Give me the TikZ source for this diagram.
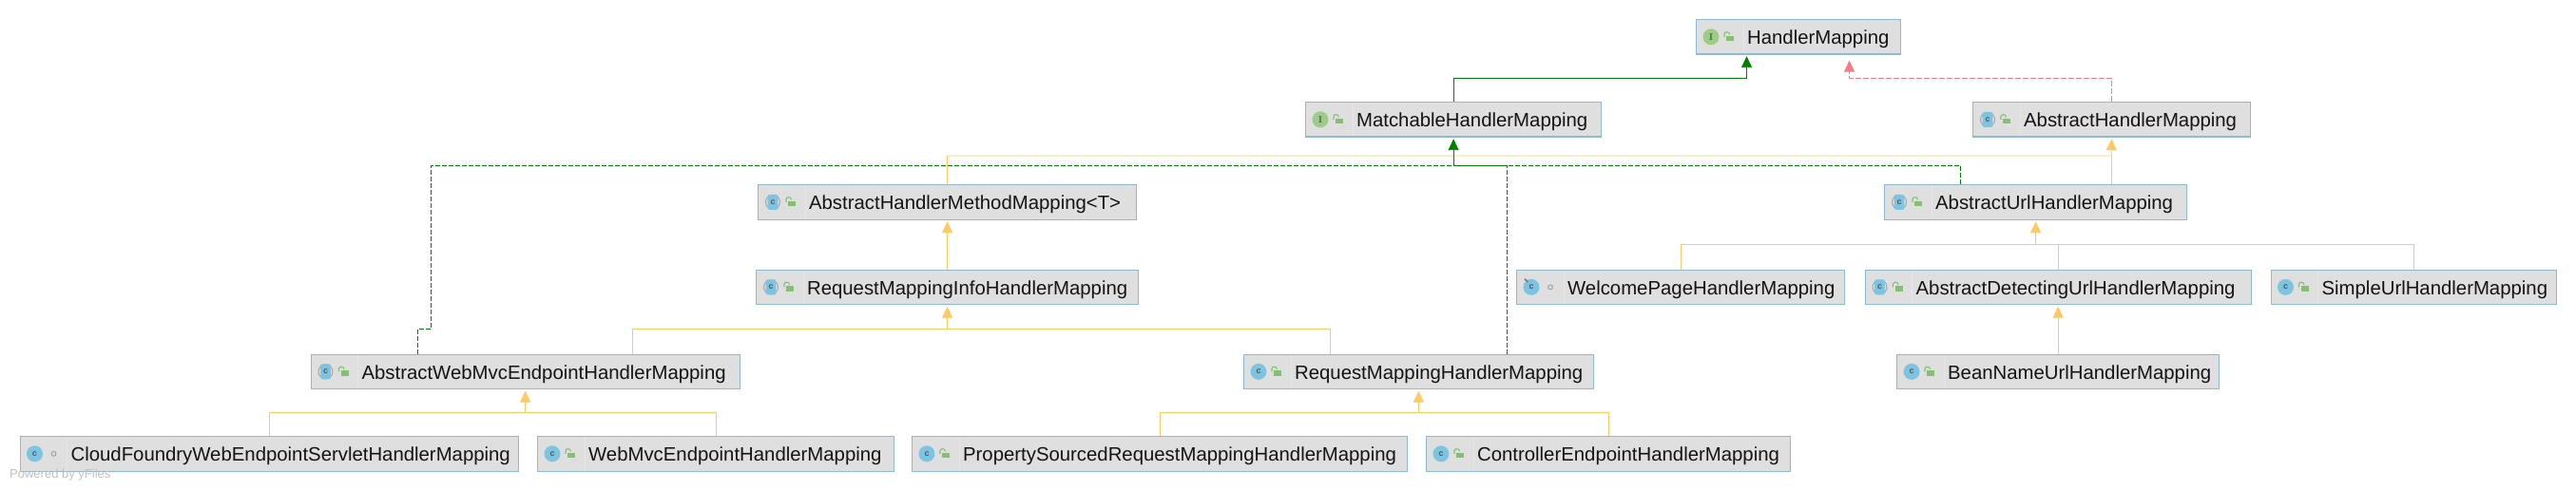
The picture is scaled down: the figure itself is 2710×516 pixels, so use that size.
\documentclass[tikz,border=0pt]{standalone}
\usepackage{fontspec}
\setsansfont{Liberation Sans}
\usetikzlibrary{arrows.meta}
\definecolor{boxfill}{HTML}{DFDFDF}
\definecolor{boxline}{HTML}{8DB9D1}
\definecolor{sepline}{HTML}{E6E6E6}
\definecolor{extcol}{HTML}{FFC966}
\definecolor{ifcol}{HTML}{008000}
\definecolor{implcol}{HTML}{F77B88}
\definecolor{ifacefill}{HTML}{9CCC85}
\definecolor{clsfill}{HTML}{7CC4E2}
\definecolor{lockfill}{HTML}{85C070}
\tikzset{%
	cls/.style={draw=boxline, fill=boxfill, line width=1.2pt, anchor=north west, inner sep=0pt,%
		text width=#1 pt, minimum height=36.5pt, text height=19.5pt, text depth=4pt, align=left,%
		font=\sffamily\fontsize{20.35}{24}\selectfont, text=black!92},
	ext/.style={draw=extcol, line width=.9pt},
	extarrow/.style={ext, -{Triangle[width=11pt,length=12pt]}, shorten >=1.5pt},
	iface/.style={draw=ifcol, line width=.9pt},
	ifarrow/.style={iface, -{Triangle[width=11pt,length=12pt]}, shorten >=1.5pt},
	ifdash/.style={iface, dash pattern=on 5pt off 2pt},
	impl/.style={draw=implcol, line width=.9pt, dash pattern=on 6pt off 2pt,%
		-{Triangle[width=11pt,length=12pt,fill=implcol]}, shorten >=6pt},
	icontxt/.style={inner sep=0pt, font=\sffamily\fontsize{9}{9}\selectfont\bfseries, text=black!65},
	iconbar/.pic={\draw[sepline, line width=1pt] (50,-17.5) -- (50,17.5);},
	ifaceicon/.pic={\fill[ifacefill] (16,0) circle (8.5);
		\node[icontxt, font=\rmfamily\fontsize{10}{10}\selectfont\bfseries] (-c) at (16,0) {I};},
	concicon/.pic={\fill[clsfill] (16,0) circle (8.5);
		\node[icontxt] (-c) at (16,0) {c};},
	absicon/.pic={\draw[black!35, line width=1pt] (16,0) circle (7.5);
		\fill[clsfill, rounded corners=1.5pt] (10.6,-8) rectangle (21.4,8);
		\node[icontxt] (-c) at (16,0) {c};},
	lockicon/.pic={\fill[lockfill] (32,-1) rectangle (40,4.5);
		\draw[lockfill, line width=1.1pt] (30,0) -- (30,-3) .. controls (30,-6) and (35.5,-6) .. (35.5,-2.5);},
	pkgicon/.pic={\draw[black!35, line width=1.1pt] (36,0) circle (2.4);}
}

\begin{document}
\begin{tikzpicture}[x=1pt, y=-1pt]
	\useasboundingbox (0,0) rectangle (2710,516);

	\node[cls=215] (hm) at (1784,20) {\hspace*{53.5pt}HandlerMapping};
	\node[cls=311] (mch) at (1373,107) {\hspace*{53.5pt}MatchableHandlerMapping};
	\node[cls=292] (ahm) at (2075,107) {\hspace*{53.5pt}AbstractHandlerMapping};
	\node[cls=398] (ahmm) at (797,194) {\hspace*{53.5pt}AbstractHandlerMethodMapping<T>};
	\node[cls=318] (aurl) at (1982,194) {\hspace*{53.5pt}AbstractUrlHandlerMapping};
	\node[cls=402] (rmi) at (795,283.5) {\hspace*{53.5pt}RequestMappingInfoHandlerMapping};
	\node[cls=345] (wpm) at (1595,283.5) {\hspace*{53.5pt}WelcomePageHandlerMapping};
	\node[cls=406] (adu) at (1961.5,283.5) {\hspace*{53.5pt}AbstractDetectingUrlHandlerMapping};
	\node[cls=300.5] (sum) at (2388.5,283.5) {\hspace*{53.5pt}SimpleUrlHandlerMapping};
	\node[cls=451] (awm) at (326.5,372.5) {\hspace*{53.5pt}AbstractWebMvcEndpointHandlerMapping};
	\node[cls=367.5] (rmh) at (1308,372.5) {\hspace*{53.5pt}RequestMappingHandlerMapping};
	\node[cls=339] (bnu) at (1995,372.5) {\hspace*{53.5pt}BeanNameUrlHandlerMapping};
	\node[cls=524] (cfw) at (20.5,459) {\hspace*{53.5pt}CloudFoundryWebEndpointServletHandlerMapping};
	\node[cls=375] (wme) at (565,459) {\hspace*{53.5pt}WebMvcEndpointHandlerMapping};
	\node[cls=521] (psr) at (959,459) {\hspace*{53.5pt}PropertySourcedRequestMappingHandlerMapping};
	\node[cls=383] (cem) at (1500,459) {\hspace*{53.5pt}ControllerEndpointHandlerMapping};
	\node[inner sep=0pt, anchor=west, text=black!25, font=\sffamily\fontsize{13}{13}\selectfont] (yfiles) at (10,500) {Powered by yFiles};

	% icons in the boxes
	\foreach \n in {hm, mch, ahm, ahmm, aurl, rmi, wpm, adu, sum, awm, rmh, bnu, cfw, wme, psr, cem}
		\pic at (\n.west) {iconbar};
	\foreach \n in {hm, mch}
		\pic (\n-ic) at (\n.west) {ifaceicon};
	\foreach \n in {ahm, ahmm, aurl, rmi, adu, awm}
		\pic (\n-ic) at (\n.west) {absicon};
	\foreach \n in {wpm, sum, rmh, bnu, cfw, wme, psr, cem}
		\pic (\n-ic) at (\n.west) {concicon};
	\foreach \n in {hm, mch, ahm, ahmm, aurl, rmi, adu, sum, awm, rmh, bnu, wme, psr, cem}
		\pic at (\n.west) {lockicon};
	\foreach \n in {wpm, cfw}
		\pic at (\n.west) {pkgicon};
	\draw[black!50, line width=1.8pt] (wpm.west) ++(9,-8.5) -- ++(3.5,3);

	\coordinate (hmin) at (1837.5,82);
	\coordinate (hmred) at (1945.5,82);
	\coordinate (upbus) at (2221,164);
	\coordinate (ifbus) at (mch.south |- 0,174.5);
	\coordinate (rmibus) at (rmi.south |- 0,346);
	\coordinate (urlbus) at (aurl.south |- 0,257.5);
	\coordinate (awmbus) at (awm.south |- 0,434);
	\coordinate (rmhbus) at (rmh.south |- 0,434);

	\draw[ext]      (2221,0 |- aurl.north) -- (upbus);
	\draw[extarrow] (ahmm.north) |- (upbus) -- (ahm.south);
	\draw[extarrow] (rmi.north) -- (ahmm.south);
	\draw[ext]      (1399.5,0 |- rmh.north) |- (rmibus);
	\draw[extarrow] (665,0 |- awm.north) |- (rmibus) -- (rmi.south);
	\draw[ext]      (wpm.north) |- (urlbus);
	\draw[ext]      (sum.north) |- (urlbus);
	\draw[ext]      (adu.north) -- (adu.north |- urlbus);
	\draw[extarrow] (urlbus) -- (aurl.south);
	\draw[extarrow] (bnu.north) -- (adu.south);
	\draw[ext]      (wme.north) |- (awmbus);
	\draw[extarrow] (cfw.north) |- (awmbus) -- (awm.south);
	\draw[ext]      (cem.north) |- (rmhbus);
	\draw[extarrow] (psr.north) |- (rmhbus) -- (rmh.south);

	\draw[ifarrow] (mch.north) |- (hmin) -- (hmin |- hm.south);
	\draw[impl]    (2221,0 |- ahm.north) |- (hmred) -- (hmred |- hm.south);

	\draw[ifdash] (439,0 |- awm.north) -- (439,346) -- (453.5,346) -- (453.5,174.5) -- (ifbus);
	\draw[ifdash] (2062,0 |- aurl.north) |- (ifbus);
	\draw[ifdash] (1585,0 |- rmh.north) -- (1585,174.5);
	\draw[ifarrow] (1585,174.5) -| (mch.south);

\end{tikzpicture}
\end{document}
